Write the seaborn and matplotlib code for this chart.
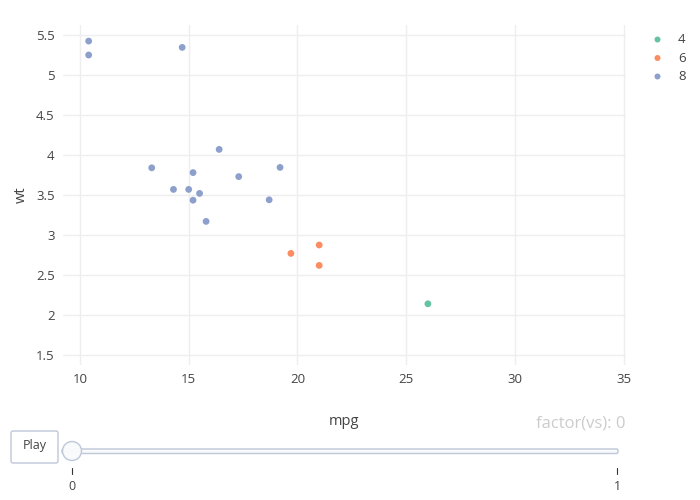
import matplotlib
matplotlib.use("Agg")
import matplotlib.pyplot as plt
from matplotlib.patches import FancyBboxPatch, Circle
import seaborn as sns
import pandas as pd

# mtcars rows with vs == 0
mpg = [21.0, 21.0, 18.7, 14.3, 16.4, 17.3, 15.2, 10.4, 10.4, 14.7,
       15.5, 15.2, 13.3, 19.2, 26.0, 15.8, 19.7, 15.0]
wt = [2.620, 2.875, 3.440, 3.570, 4.070, 3.730, 3.780, 5.250, 5.424, 5.345,
      3.520, 3.435, 3.840, 3.845, 2.140, 3.170, 2.770, 3.570]
cyl = ["6", "6", "8", "8", "8", "8", "8", "8", "8", "8",
       "8", "8", "8", "8", "4", "8", "6", "8"]
cyl_levels = ["4", "6", "8"]
colors = ["#66c2a5", "#fc8d62", "#8da0cb"]
x_ticks = [10, 15, 20, 25, 30, 35]
y_ticks = [1.5, 2, 2.5, 3, 3.5, 4, 4.5, 5, 5.5]
slider_steps = ["0", "1"]

df = pd.DataFrame({"mpg": mpg, "wt": wt, "cyl": cyl})

sns.set_style("white")
plt.rcParams["font.family"] = ["Open Sans", "DejaVu Sans"]

fig = plt.figure(figsize=(7, 5), dpi=100)
ax = fig.add_axes([0.09, 0.27, 0.804, 0.68])

sns.scatterplot(data=df, x="mpg", y="wt", hue="cyl", hue_order=cyl_levels,
                palette=colors, s=24, linewidth=0, ax=ax, legend=False, zorder=3)

ax.set_xlim(9.22, 35.1)
ax.set_ylim(1.375, 5.625)
ax.set_xticks(x_ticks)
ax.set_yticks(y_ticks)
ax.set_xticklabels([str(v) for v in x_ticks])
ax.set_yticklabels([f"{v:g}" for v in y_ticks])
ax.grid(True, color="#eeeeee", linewidth=1)
for s in ax.spines.values():
    s.set_visible(False)
ax.tick_params(length=0, labelsize=9.5, colors="#444444", pad=6)
ax.set_xlabel("mpg", fontsize=10.5, color="#444444", labelpad=20)
ax.set_ylabel("wt", fontsize=10.5, color="#444444", labelpad=5)

# overlay in pixel coords for legend, slider and play button
ov = fig.add_axes([0, 0, 1, 1])
ov.set_xlim(0, 700)
ov.set_ylim(500, 0)
ov.set_aspect("equal")
ov.axis("off")

for i, (lab, c) in enumerate(zip(cyl_levels, colors)):
    yy = 39.5 + i * 18.5
    ov.add_patch(Circle((657.5, yy), 3.0, fc=c, lw=0))
    ov.text(678, yy, lab, fontsize=9.5, color="#444444", va="center", ha="left")

ov.add_patch(FancyBboxPatch((11, 431), 47, 32, boxstyle="round,pad=0,rounding_size=2",
                            fc="white", ec="#bec8d9", lw=1))
ov.text(34.5, 446, "Play", ha="center", va="center", fontsize=9, color="#444444")
ov.add_patch(FancyBboxPatch((62, 449), 556, 4.5, boxstyle="round,pad=0,rounding_size=1.5",
                            fc="#f8fafc", ec="#bec8d9", lw=1))
ov.add_patch(Circle((72, 451), 9.5, fc="#f8fafc", ec="#bec8d9", lw=1, zorder=4))
for xp, lab in zip([72, 617], slider_steps):
    ov.plot([xp, xp], [468, 474], color="#333333", lw=0.8)
    ov.text(xp, 486, lab, ha="center", va="center", fontsize=9, color="#444444")
ov.text(626, 424, "factor(vs): 0", ha="right", va="center", fontsize=12, color="#cccccc")

fig.savefig("out.png", dpi=100)
